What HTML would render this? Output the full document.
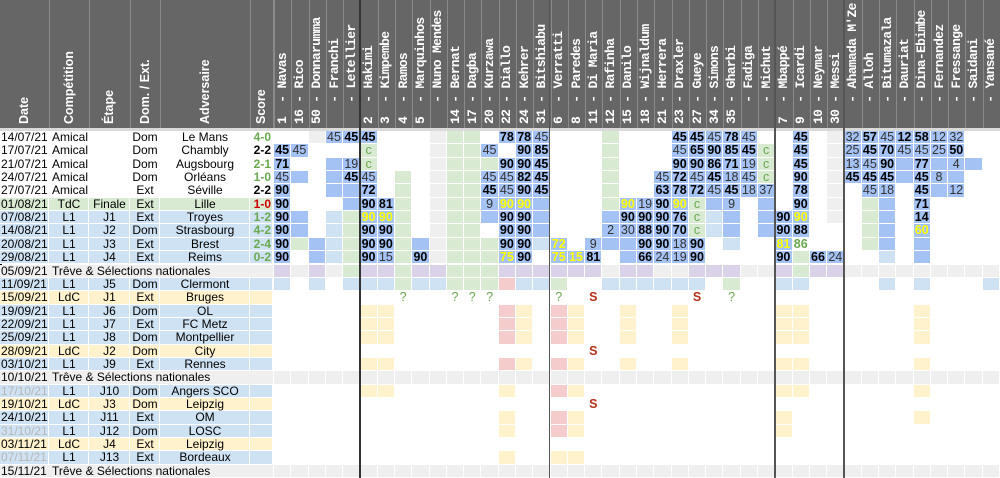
<!DOCTYPE html>
<html><head><meta charset="utf-8">
<style>
*{margin:0;padding:0;box-sizing:border-box}
body{width:1000px;height:478px;overflow:hidden;background:#fff;position:relative;font-family:"Liberation Sans",Arial,sans-serif;font-size:12px;color:#000}
#hdr{position:absolute;left:0;top:0;width:1000px;height:128px;background:#666}
#band{position:absolute;left:0;top:128px;width:1000px;height:3px;background:#d9d9d9}
.c{position:absolute;height:13.35px;line-height:13.35px;text-align:center;white-space:nowrap;overflow:visible}
.h{position:absolute;color:#fff;font-weight:bold;white-space:pre;transform-origin:0 0;transform:rotate(-90deg)}
.vl{position:absolute;background:#8a8a8a;width:1px}
</style></head><body>
<div id="hdr"></div><div id="band"></div>
<div id="root"></div>
<script>
var root=document.getElementById('root');
function el(css,txt,cls){var d=document.createElement('div');d.className=cls||'';d.style.cssText=css;if(txt!=null)d.textContent=txt;root.appendChild(d);return d;}
var left=[[0,49,'Date'],[49,89,'Compétition'],[89,130,'Étape'],[130,160,'Dom. / Ext.'],[160,250,'Adversaire'],[250,273,'Score']];
var players=[[1,'Navas'],[16,'Rico'],[50,'Donnarumma'],['','Franchi'],['','Letellier'],[2,'Hakimi'],[3,'Kimpembe'],[4,'Ramos'],[5,'Marquinhos'],['','Nuno Mendes'],[14,'Bernat'],[17,'Dagba'],[20,'Kurzawa'],[22,'Diallo'],[24,'Kehrer'],[31,'Bitshiabu'],[6,'Verratti'],[8,'Paredes'],[11,'Di Maria'],[12,'Rafinha'],[15,'Danilo'],[18,'Wijnaldum'],[21,'Herrera'],[23,'Draxler'],[27,'Gueye'],[34,'Simons'],[35,'Gharbi'],['','Fadiga'],['','Michut'],[7,'Mbappé'],[9,'Icardi'],[10,'Neymar'],[30,'Messi'],['',"Ahamada M'Ze"],['','Alloh'],['','Bitumazala'],['','Dauriat'],['','Dina-Ebimbe'],['','Fernandez'],['','Fressange'],['','Saidani'],['','Yansané']];
var X0=274,W=(1000-274)/42,Y0=131,H=13.35;
for(var i=0;i<left.length;i++){el('left:'+left[i][1]+'px;top:0;height:128px;','','vl');}
for(var j=0;j<42;j++){el('left:'+(X0+j*W)+'px;top:0;height:128px;','','vl');}
left.forEach(function(l){var cx=(l[0]+l[1])/2;el('left:'+(cx-7.5)+'px;top:124px;font-size:12.5px;font-family:"Liberation Sans",sans-serif;',l[2],'h');});
players.forEach(function(p,j){var n=String(p[0]);while(n.length<2)n=n+' ';var t=n+' - '+p[1];var cx=X0+j*W+W/2;el('left:'+(cx-8)+'px;top:124px;font-size:13px;letter-spacing:-0.7px;font-family:"Liberation Mono",monospace;',t,'h');});
var rows=[
['14/07/21','Amical','','Dom','Le Mans','4-0','w','A'],
['17/07/21','Amical','','Dom','Chambly','2-2','d','A'],
['21/07/21','Amical','','Dom','Augsbourg','2-1','w','A'],
['24/07/21','Amical','','Dom','Orléans','1-0','w','A'],
['27/07/21','Amical','','Ext','Séville','2-2','d','A'],
['01/08/21','TdC','Finale','Ext','Lille','1-0','l','T'],
['07/08/21','L1','J1','Ext','Troyes','1-2','w','L'],
['14/08/21','L1','J2','Dom','Strasbourg','4-2','w','L'],
['20/08/21','L1','J3','Ext','Brest','2-4','w','L'],
['29/08/21','L1','J4','Ext','Reims','0-2','w','L'],
['05/09/21','Trêve & Sélections nationales','','','','','','R'],
['11/09/21','L1','J5','Dom','Clermont','','','L'],
['15/09/21','LdC','J1','Ext','Bruges','','','C'],
['19/09/21','L1','J6','Dom','OL','','','L'],
['22/09/21','L1','J7','Ext','FC Metz','','','L'],
['25/09/21','L1','J8','Dom','Montpellier','','','L'],
['28/09/21','LdC','J2','Dom','City','','','C'],
['03/10/21','L1','J9','Ext','Rennes','','','L'],
['10/10/21','Trêve & Sélections nationales','','','','','','R'],
['17/10/21','L1','J10','Dom','Angers SCO','','','L','g'],
['19/10/21','LdC','J3','Dom','Leipzig','','','C'],
['24/10/21','L1','J11','Ext','OM','','','L'],
['31/10/21','L1','J12','Dom','LOSC','','','L','g'],
['03/11/21','LdC','J4','Ext','Leipzig','','','C'],
['07/11/21','L1','J13','Ext','Bordeaux','','','L','g'],
['15/11/21','Trêve & Sélections nationales','','','','','','R']];
var rowbg={A:'#fff',T:'#d9ead3',L:'#cfe2f3',C:'#fff2cc',R:'#efefef'};
var sc={w:'#6aa84f',d:'#000',l:'#cc0000'};
rows.forEach(function(r,i){
 var y=Y0+i*H,bg=rowbg[r[7]];
 if(r[7]=='R'){
  el('left:0;top:'+y+'px;width:273px;background:#efefef;border-bottom:1px solid #fff;','','c');
  el('left:1px;top:'+y+'px;text-align:left;',r[0],'c');
  el('left:52px;top:'+y+'px;text-align:left;',r[1],'c');
  return;}
 for(var k=0;k<6;k++){var l=left[k];el('left:'+l[0]+'px;top:'+y+'px;width:'+(l[1]-l[0])+'px;background:'+bg+';border-right:1px solid #fff;border-bottom:1px solid #fff;','','c');}
 el('left:1px;top:'+y+'px;width:48px;text-align:left;'+(r[8]?'color:#b7b7b7;':''),r[0],'c');
 if(r[7]=='A')el('left:52px;top:'+y+'px;text-align:left;',r[1],'c');
 else el('left:49px;top:'+y+'px;width:40px;',r[1],'c');
 el('left:89px;top:'+y+'px;width:41px;',r[2],'c');
 el('left:130px;top:'+y+'px;width:30px;',r[3],'c');
 el('left:160px;top:'+y+'px;width:90px;',r[4],'c');
 el('left:250px;top:'+y+'px;width:23px;text-align:right;padding-right:2px;font-weight:bold;color:'+sc[r[6]||'d'],r[5],'c');
});
var grid=[
". . R B45 B*45 B*45 . . . R G G . B*78 B*78 B45 . . . G . . . B*45 B*45 B45 B*78 B45 . . B*45 . R B32 B*57 B45 B*12 B*58 B12 B32 . .",
"B*45 B45 . . . G%c . . . R G G B45 . B*90 B*85 . . . G . . . B45 B*65 B*90 B*85 B*45 G%c . B*45 . R B25 B*45 B*70 B45 B45 B25 B*50 . .",
"B*71 . . B B19 G%c . . . R G G G B*90 B*90 B*45 . . . G . . . B*90 B*90 B*86 B*71 B19 G%c . B*45 . R B13 B45 B*90 B B*77 B B4 B .",
"B45 B . B B*45 B45 . G . R G G B45 B45 B*82 B*45 . . . G . . B45 B*72 B45 B*45 B18 B45 G%c . B*90 . R B*45 B*45 B*45 B B*45 B8 B . .",
"B*90 . . B B B*72 . G . R G G B*45 B45 B*90 B*45 . . . G . . B*63 B*78 B*72 B45 B*45 B18 B37 . B*78 . R . B45 B18 . B*45 B B12 . .",
"B*90 . . . B B*90 B*81 G . R G G B9 B!90 B!90 B . . . G B!90 B19 B*90 B!90 G%c B B9 . B . B*90 . R . G B . B*71 . . . .",
"B*90 B . L G B!90 B!90 G . R G G B B*90 B*90 B . . . B B*90 B*90 B*90 B*76 G%c L B . B B*90 B!90 . R . G B . B*14 . . . .",
"B*90 B . L G B*90 B*90 G . R G G . B*90 B*90 B . . . B2 B30 B*88 B*90 B*70 G%c L B . B B*90 B*88 . . . G B . B!60 . . . .",
"B*90 G B L G B*90 B*90 G B R G G G B*90 B*90 L B!72 . B9 B B B*90 B*90 B18 B*90 . L . . B!81 .%86 . . . G B . B . . . .",
"B*90 . B L G B*90 B15 G B*90 R G G G B!75 B*90 . B!75 B!15 B*81 . B B*66 B24 B19 B*90 . . . . B*90 G B*66 B24 . . L . B . . . .",
"P R P R G P P G P P G G G P P P P P P R P P R R P P P R R P G P P R R R R R R R R R",
"L . L . L L L G L L G G G K L L G . . L L L L L L . G . . L L . . . . L . L . . . L"];
function blank(){var a=[];for(var i=0;i<42;i++)a.push('.');return a;}
function mk(spec){var a=blank();for(var k in spec)a[k]=spec[k];return a.join(' ');}
var A={5:'Y',6:'Y',13:'K',14:'Y',16:'K',17:'Y',20:'Y',23:'Y',29:'Y',30:'Y',37:'Y'};
grid.push(mk({7:'.%?',10:'.%?',11:'.%?',12:'.%?',16:'.%?',18:'.S',24:'.S',26:'.%?'}));
grid.push(mk(A));grid.push(mk(A));grid.push(mk(A));
grid.push(mk({18:'.S'}));
grid.push(mk(A));
var allR=[];for(var i=0;i<42;i++)allR.push('R');
grid.push(allR.join(' '));
grid.push(mk({5:'Y',6:'Y',13:'Y',16:'K',17:'Y',29:'Y',30:'Y',37:'Y'}));
grid.push(mk({18:'.S'}));
grid.push(mk({13:'Y',16:'K',17:'Y',29:'Y',37:'Y'}));
grid.push(mk({13:'Y',16:'K',17:'Y',29:'Y'}));
grid.push(mk({}));
grid.push(mk({13:'Y',16:'Y',17:'Y'}));
grid.push(allR.join(' '));
var cols={'.':'#fff',B:'#a4c2f4',L:'#cfe2f3',G:'#d9ead3',P:'#d9d2e9',R:'#efefef',Y:'#fff2cc',K:'#f4cccc'};
grid.forEach(function(line,i){
 var t=line.split(' '),y=Y0+i*H;
 t.forEach(function(tok,j){
  var bg=cols[tok[0]],txt=tok.slice(1),st='';
  if(txt[0]=='*'){st='font-weight:bold;';txt=txt.slice(1);}
  else if(txt[0]=='!'){st='font-weight:bold;color:#ffff00;';txt=txt.slice(1);}
  else if(txt[0]=='%'){st='color:#6aa84f;';txt=txt.slice(1);if(txt!='c'&&txt!='?')st+='font-weight:bold;';}
  else if(txt=='S'){st='font-weight:bold;color:#b7321a;';}
  else st='color:#333;';
  var x=X0+j*W;
  el('left:'+x+'px;top:'+y+'px;width:'+W+'px;background:'+bg+';border-right:1px solid #fff;border-bottom:1px solid #fff;font-size:12.5px;'+st,txt,'c');
 });
});
el('left:272px;top:0;width:2px;height:478px;background:#000','', '');
[[360,'#333'],[549.5,'#555'],[775,'#555'],[844,'#555']].forEach(function(s){el('position:absolute;left:'+(s[0]-1)+'px;top:0;width:1.5px;height:478px;background:'+s[1],'','');});
</script>
</body></html>
